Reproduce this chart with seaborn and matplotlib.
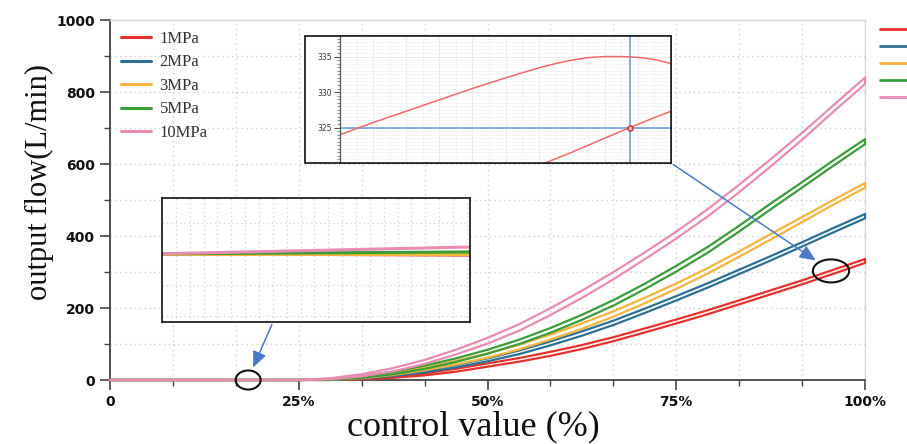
import numpy as np
import pandas as pd
import seaborn as sns
import matplotlib
matplotlib.use("Agg")
import matplotlib.pyplot as plt
from matplotlib.patches import Ellipse, Rectangle
from matplotlib.lines import Line2D
from matplotlib.ticker import MultipleLocator, FixedLocator

# ---------------- data ----------------
pressures = ["1MPa", "2MPa", "3MPa", "5MPa", "10MPa"]
colors = ["#e8302c", "#2b7094", "#f5b43c", "#3a9d3a", "#e98bb3"]

control = [25, 29.2, 33.3, 37.5, 41.7, 45.8, 50, 54.2, 58.3, 62.5, 66.7,
           70.8, 75, 79.2, 83.3, 87.5, 91.7, 95.8, 100]

# rising (lower) branch and returning (upper) branch, L/min
lower_1 = [0, 0, 2, 6, 13, 23, 37, 51, 67, 86, 108, 132, 157, 183, 210, 238, 266, 295, 325]
upper_1 = [0, 1, 4, 10, 19, 31, 46, 61, 78, 97, 119, 143, 168, 194, 221, 249, 277, 306, 336]
lower_2 = [0, 0, 4, 11, 21, 35, 52, 72, 96, 123, 153, 186, 221, 257, 294, 332, 371, 410, 449]
upper_2 = [0, 2, 7, 15, 27, 42, 60, 82, 107, 135, 165, 198, 233, 269, 306, 344, 383, 422, 461]
lower_3 = [0, 1, 5, 14, 27, 43, 62, 85, 112, 142, 176, 213, 253, 296, 342, 390, 439, 487, 534]
upper_3 = [0, 3, 9, 20, 35, 53, 74, 98, 126, 157, 191, 228, 268, 311, 357, 405, 453, 500, 547]
lower_5 = [0, 1, 6, 16, 31, 50, 73, 100, 131, 167, 207, 252, 301, 354, 412, 474, 535, 595, 655]
upper_5 = [0, 3, 11, 23, 40, 60, 84, 112, 144, 181, 222, 267, 317, 370, 428, 490, 550, 610, 669]
lower_10 = [0, 2, 10, 24, 45, 71, 101, 137, 180, 228, 280, 335, 393, 455, 521, 593, 668, 745, 822]
upper_10 = [0, 5, 16, 33, 56, 84, 117, 155, 199, 248, 300, 354, 412, 475, 542, 613, 687, 763, 840]

lowers = [lower_1, lower_2, lower_3, lower_5, lower_10]
uppers = [upper_1, upper_2, upper_3, upper_5, upper_10]

# zoom inset 1 (1MPa near the top end)
inset1_x_upper = [0, 10, 20, 30, 40, 50, 60, 65, 70, 75, 80, 85, 88, 92, 96, 100]
inset1_upper = [324.0, 325.7, 327.3, 328.9, 330.5, 332.0, 333.4, 334.0, 334.5, 334.85,
                335.0, 335.0, 334.95, 334.8, 334.5, 334.0]
inset1_x_lower = [62, 70, 80, 87.6, 95, 100]
inset1_lower = [320.0, 321.5, 323.5, 325.0, 326.4, 327.3]
inset1_cursor_x = 87.6
inset1_cursor_y = 325.0

# zoom inset 2 (dead zone)
inset2_x = [0, 100]
inset2_vals = {"1MPa": [0.0, -0.02], "2MPa": [0.0, 0.0], "3MPa": [0.0, 0.0],
               "5MPa": [0.0, 0.03], "10MPa": [0.0, 0.11]}

xlabel = "control value (%)"
ylabel = "output flow(L/min)"
xtick_vals = [0, 25, 50, 75, 100]
xtick_labels = ["0", "25%", "50%", "75%", "100%"]

# ---------------- build long table ----------------
rows = []
for p, lo, up in zip(pressures, lowers, uppers):
    xs = [0] + control + control[::-1] + [0]
    ys = [0] + lo + up[::-1] + [0]
    for i, (x, y) in enumerate(zip(xs, ys)):
        rows.append({"pressure": p, "control": x, "flow": y, "order": i})
df = pd.DataFrame(rows)

sns.set_theme(style="white")
plt.rcParams["font.family"] = ["DejaVu Sans"]

W, H = 907, 444
fig = plt.figure(figsize=(W / 100, H / 100), dpi=100)
fig.patch.set_facecolor("white")

def fx(px):
    return px / W

def fy(py):
    return 1 - py / H

ax = fig.add_axes([fx(110), fy(380), fx(865) - fx(110), fy(20) - fy(380)])
ax.set_zorder(0)

sns.lineplot(data=df, x="control", y="flow", hue="pressure", hue_order=pressures,
             palette=colors, sort=False, estimator=None, lw=1.6, legend=False, ax=ax)
for ln in ax.lines:
    ln.set_clip_on(False)
    ln.set_zorder(3)
    ln.set_solid_joinstyle("round")
    ln.set_solid_capstyle("round")

ax.set_xlim(0, 100)
ax.set_ylim(0, 1000)
ax.xaxis.set_major_locator(FixedLocator(xtick_vals))
ax.set_xticklabels(xtick_labels)
ax.xaxis.set_minor_locator(MultipleLocator(25 / 3))
ax.yaxis.set_major_locator(MultipleLocator(200))
ax.yaxis.set_minor_locator(MultipleLocator(100))
ax.tick_params(which="major", direction="out", length=7, width=1.2, color="#444444",
               labelsize=10, labelcolor="#111111", pad=4, bottom=True, left=True)
ax.tick_params(which="minor", direction="out", length=4, width=1.0, color="#444444",
               bottom=True, left=True)
for lbl in ax.get_xticklabels() + ax.get_yticklabels():
    lbl.set_fontweight("bold")
ax.grid(which="both", linestyle=(0, (1, 2.5)), color="#cfcfcf", lw=1.0)
ax.set_axisbelow(True)
for s in ["left", "bottom"]:
    ax.spines[s].set_color("#444444")
    ax.spines[s].set_linewidth(1.3)
for s in ["top", "right"]:
    ax.spines[s].set_color("#d8d8d8")
    ax.spines[s].set_linewidth(1.0)

ax.set_xlabel(xlabel, family="Liberation Serif", fontsize=26, color="#111111")
ax.set_ylabel(ylabel, family="Liberation Serif", fontsize=22, color="#111111")
ax.xaxis.set_label_coords(0.481, -0.083)
ax.yaxis.set_label_coords(-0.074, 0.55)

handles = [Line2D([], [], color=c, lw=2.2) for c in colors]
leg = ax.legend(handles, pressures, loc="upper left", bbox_to_anchor=(0.006, 0.988),
                frameon=False, prop={"family": "Liberation Serif", "size": 12},
                handlelength=1.8, handletextpad=0.5, labelspacing=0.45, borderaxespad=0)
for t in leg.get_texts():
    t.set_color("#333333")

# cut-off duplicate legend at the right edge
fig.legend([Line2D([], [], color=c, lw=2.0) for c in colors], pressures,
           loc="upper left", bbox_to_anchor=(fx(880), fy(25)), frameon=False,
           fontsize=8, handlelength=3.5, handletextpad=1.0, labelspacing=0.62,
           borderaxespad=0, borderpad=0)

# ellipses
ax.add_patch(Ellipse((95.5, 303), 4.8, 64, fill=False, ec="#111111", lw=1.5, clip_on=False, zorder=6))
ax.add_patch(Ellipse((18.3, 0), 3.3, 53, fill=False, ec="#111111", lw=1.5, clip_on=False, zorder=6))

# arrows
arrow_kw = dict(arrowstyle="-|>,head_length=0.8,head_width=0.35", color="#4a78c8", lw=1.1)
ax.annotate("", xy=(fx(818), fy(262)), xytext=(fx(671), fy(163)),
            xycoords="figure fraction", textcoords="figure fraction",
            arrowprops=arrow_kw, annotation_clip=False)
ax.annotate("", xy=(fx(252), fy(370)), xytext=(fx(273), fy(322)),
            xycoords="figure fraction", textcoords="figure fraction",
            arrowprops=arrow_kw, annotation_clip=False)

# ---------------- inset 1 ----------------
fig.add_artist(Rectangle((fx(305), fy(163)), fx(671) - fx(305), fy(36) - fy(163),
                         transform=fig.transFigure, facecolor="white", edgecolor="#222222",
                         lw=1.3, zorder=4))
ax1 = fig.add_axes([fx(340), fy(163), fx(671) - fx(340), fy(36) - fy(163)])
ax1.set_zorder(5)
ax1.set_facecolor("white")
up_df = pd.DataFrame({"x": inset1_x_upper, "y": inset1_upper})
lo_df = pd.DataFrame({"x": inset1_x_lower, "y": inset1_lower})
sns.lineplot(data=up_df, x="x", y="y", color="#f06a6a", lw=1.1, sort=False, ax=ax1)
sns.lineplot(data=lo_df, x="x", y="y", color="#f06a6a", lw=1.1, sort=False, ax=ax1)
ax1.axvline(inset1_cursor_x, color="#6fa3dc", lw=1.2, zorder=1)
ax1.axhline(inset1_cursor_y, color="#6fa3dc", lw=1.2, zorder=1)
sns.scatterplot(x=[inset1_cursor_x], y=[inset1_cursor_y], s=14, color="#f4b0b0",
                edgecolor="#c03030", linewidth=1.0, ax=ax1, zorder=5)
ax1.set_xlim(0, 100)
ax1.set_ylim(320, 337.9)
ax1.set_xlabel("")
ax1.set_ylabel("")
ax1.yaxis.set_major_locator(FixedLocator([325, 330, 335]))
ax1.yaxis.set_minor_locator(MultipleLocator(0.5))
ax1.xaxis.set_major_locator(MultipleLocator(10))
ax1.xaxis.set_minor_locator(MultipleLocator(5))
ax1.tick_params(axis="y", which="major", direction="out", length=4, width=0.8,
                color="#555555", labelsize=5.5, labelcolor="#333333", pad=2, left=True)
ax1.tick_params(axis="y", which="minor", direction="out", length=2, width=0.6,
                color="#777777", left=True)
ax1.tick_params(axis="x", which="both", bottom=False, labelbottom=False)
ax1.grid(which="major", color="#e6e6e6", lw=0.6)
ax1.grid(which="minor", color="#f2f2f2", lw=0.5)
ax1.set_axisbelow(True)
for s in ax1.spines.values():
    s.set_color("#222222")
    s.set_linewidth(1.2)
ax1.spines["left"].set_color("#555555")
ax1.spines["left"].set_linewidth(0.9)

# ---------------- inset 2 ----------------
ax2 = fig.add_axes([fx(162), fy(322), fx(470) - fx(162), fy(198) - fy(322)])
ax2.set_zorder(5)
ax2.set_facecolor("white")
for p, c in zip(pressures, colors):
    sns.lineplot(x=inset2_x, y=inset2_vals[p], color=c, lw=2.2, ax=ax2)
ax2.set_xlim(0, 100)
ax2.set_ylim(-1.1, 0.9)
ax2.xaxis.set_major_locator(MultipleLocator(4.5))
ax2.yaxis.set_major_locator(MultipleLocator(0.5))
ax2.tick_params(which="both", left=False, bottom=False, labelleft=False, labelbottom=False)
ax2.grid(which="major", linestyle=(0, (1, 2.5)), color="#cfcfcf", lw=0.9)
ax2.set_axisbelow(True)
for s in ax2.spines.values():
    s.set_color("#222222")
    s.set_linewidth(1.3)

fig.savefig("out.png", dpi=100, facecolor="white")
